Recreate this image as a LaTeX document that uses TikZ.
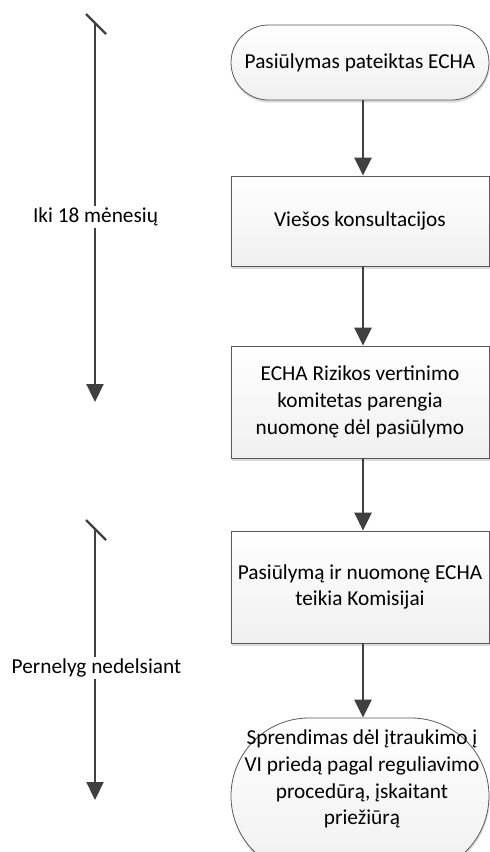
\documentclass[tikz,border=0pt]{standalone}
\usepackage{fontspec}
\setmainfont{Carlito}
\usetikzlibrary{shapes.misc,shadows,arrows.meta}
\definecolor{lineg}{HTML}{404040}
\definecolor{edgeg}{HTML}{5A5A5A}
\begin{document}
\begin{tikzpicture}[x=1pt,y=-1pt,
  txt/.style={font=\fontsize{21.3}{26.7}\selectfont, align=center},
  boxbase/.style={draw=edgeg, line width=0.8pt, top color=white, bottom color=black!6,
    minimum width=258pt, inner sep=0pt,
    drop shadow={shadow xshift=0.6pt, shadow yshift=-2.6pt, fill=black!35, opacity=0.4}},
  procbox/.style={boxbase, rectangle, txt},
  termbox/.style={boxbase, rounded rectangle, rounded rectangle arc length=180},
  flow/.style={draw=lineg, line width=2.4pt, -{Triangle[length=18pt,width=17pt]}},
  tick/.style={draw=lineg, line width=2.2pt},
  lbl/.style={txt, fill=white, inner sep=2pt}
]
\useasboundingbox (0,0) rectangle (490,852);
\clip (0,0) rectangle (490,852);
\fill[white] (0,0) rectangle (490,852);

% flow nodes
\node[termbox, txt, minimum height=75pt] (n1) at (360,62.5) {Pasiūlymas pateiktas ECHA};
\node[procbox, minimum height=90pt] (n2) at (360,221) {Viešos konsultacijos};
\node[procbox, minimum height=112pt] (n3) at (360,402) {ECHA Rizikos vertinimo\\komitetas parengia\\nuomonę dėl pasiūlymo};
\node[procbox, minimum height=112pt] (n4) at (360,587) {Pasiūlymą ir nuomonę ECHA\\teikia Komisijai};
\node[termbox, minimum height=156pt] (n5) at (360,796) {};
\node[txt] (n5t) at (362,779) {Sprendimas dėl įtraukimo į\\VI priedą pagal reguliavimo\\procedūrą, įskaitant\\priežiūrą};

% connectors
\coordinate (ax) at (363,0);
\draw[flow] (n1.south -| ax) -- (n2.north -| ax);
\draw[flow] (n2.south -| ax) -- (n3.north -| ax);
\draw[flow] (n3.south -| ax) -- (n4.north -| ax);
\draw[flow] (n4.south -| ax) -- (n5.north -| ax);

% timeline 1
\coordinate (k1a) at (86,14);
\coordinate (k1b) at (106,34);
\coordinate (s1) at (95,23);
\coordinate (e1) at (95,402);
\draw[tick] (k1a) -- (k1b);
\draw[flow, line width=2.2pt] (s1) -- (e1);
\node[lbl] (L1) at (95.5,217) {Iki 18 mėnesių};

% timeline 2
\coordinate (k2a) at (86,520);
\coordinate (k2b) at (106,540);
\coordinate (s2) at (95,529);
\coordinate (e2) at (95,800);
\draw[tick] (k2a) -- (k2b);
\draw[flow, line width=2.2pt] (s2) -- (e2);
\node[lbl] (L2) at (96.5,668) {Pernelyg nedelsiant};
\end{tikzpicture}
\end{document}
